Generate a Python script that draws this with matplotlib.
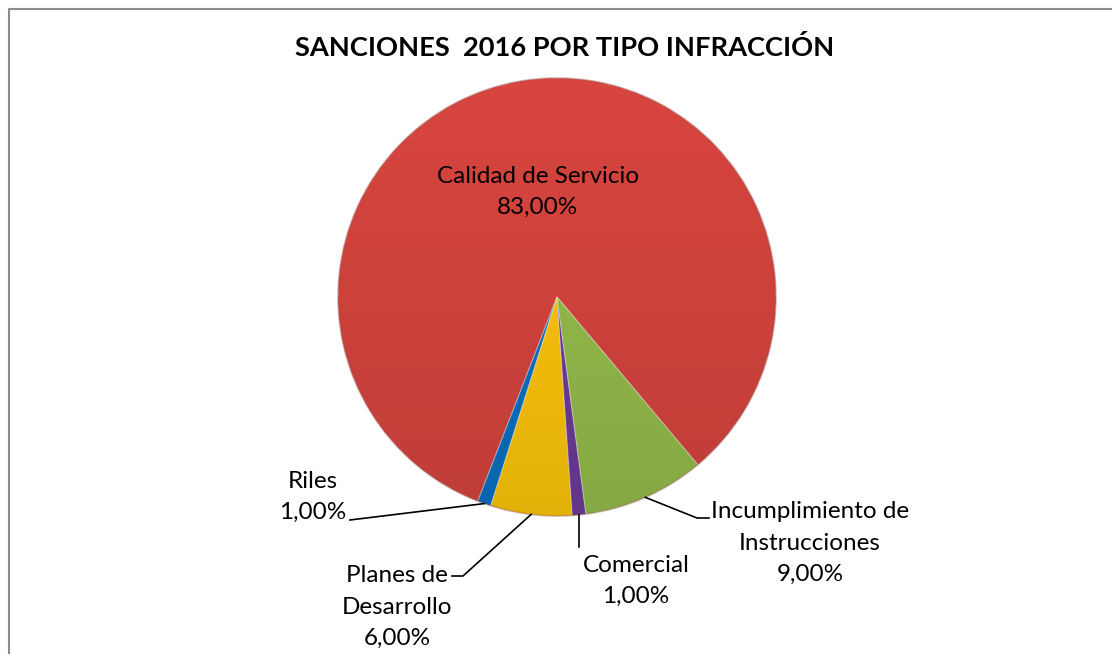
import numpy as np
import matplotlib
matplotlib.use("Agg")
import matplotlib.pyplot as plt
from matplotlib.patches import Circle
from matplotlib.lines import Line2D

# data
categories = ["Calidad de Servicio", "Riles", "Planes de Desarrollo", "Comercial",
              "Incumplimiento de Instrucciones"]
shares = [83.0, 1.0, 6.0, 1.0, 9.0]
label_text = ["Calidad de Servicio", "Riles", "Planes de\nDesarrollo", "Comercial",
              "Incumplimiento de\nInstrucciones"]
colors = ["#D8453F", "#0A72C4", "#FFC70A", "#6E3C9A", "#97BE4C"]

W, H = 1112, 654
plt.rcParams["font.family"] = ["Lato", "DejaVu Sans"]

fig = plt.figure(figsize=(W / 100, H / 100), dpi=100, facecolor="white")
ax = fig.add_axes([0, 0, 1, 1])


def px(x, y):
    # pixel position (origin top-left) -> data coords
    return x, H - y


cx, cy = px(557, 297)
radius = 219
start = -50

wedges, _ = ax.pie(shares, colors=colors, startangle=start, counterclock=True,
                   center=(cx, cy), radius=radius, frame=True,
                   wedgeprops=dict(edgecolor=(1, 1, 1, 0.35), linewidth=0.8))
ax.set_xlim(0, W)
ax.set_ylim(0, H)
ax.set_aspect("equal")
ax.axis("off")

# soft top-to-bottom shading like the office gradient
grad = np.zeros((256, 2, 4))
grad[:, :, 3] = np.linspace(0.11, 0.0, 256)[:, None]
img = ax.imshow(grad, extent=(cx - radius, cx + radius, cy - radius, cy + radius),
                origin="lower", aspect="auto", zorder=3, interpolation="bilinear")
img.set_clip_path(Circle((cx, cy), radius, transform=ax.transData))
ax.add_patch(Circle((cx, cy), radius, fill=False, edgecolor=(0.45, 0.12, 0.1, 0.3),
                    linewidth=1.2, zorder=4))
ax.set_xlim(0, W)
ax.set_ylim(0, H)

fs = 17.5
ls = 1.6
pct = [f"{v:.2f}".replace(".", ",") + "%" for v in shares]

# inside label for the big slice
x, y = px(538, 192)
ax.text(x, y, f"{label_text[0]}\n{pct[0]}", ha="center", va="center", fontsize=fs,
        linespacing=ls, zorder=5)

# outside labels: text position (px) and leader line points (px)
outside = {
    1: dict(text=(313, 497), path=[(350, 520)]),
    2: dict(text=(397, 607), path=[(463, 576), (452, 576)]),
    3: dict(text=(636, 581), path=[(None, 547)]),
    4: dict(text=(810, 543), path=[(697, 518), (709, 518)]),
}

for i, spec in outside.items():
    w = wedges[i]
    mid = np.deg2rad((w.theta1 + w.theta2) / 2)
    ex = cx + radius * np.cos(mid)
    ey = cy + radius * np.sin(mid)
    pts = [(ex, ey)]
    for p in spec["path"]:
        pts.append((ex if p[0] is None else p[0], H - p[1]))
    xs, ys = zip(*pts)
    ax.add_line(Line2D(xs, ys, color="black", linewidth=1.2, zorder=5))
    tx, ty = px(*spec["text"])
    ax.text(tx, ty, f"{label_text[i]}\n{pct[i]}", ha="center", va="center",
            fontsize=fs, linespacing=ls, zorder=5)

# title
tx, ty = px(565, 48)
ax.text(tx, ty, "SANCIONES  2016 POR TIPO INFRACCIÓN", ha="center", va="center",
        fontsize=19.6, fontweight="bold")

# chart area frame (only top and left edges visible in the crop)
ax.add_line(Line2D([9, 9, W], [0, H - 9, H - 9], color="#8C8C8C", linewidth=1.5,
                   zorder=6))

fig.savefig("out.png", dpi=100, facecolor="white")
